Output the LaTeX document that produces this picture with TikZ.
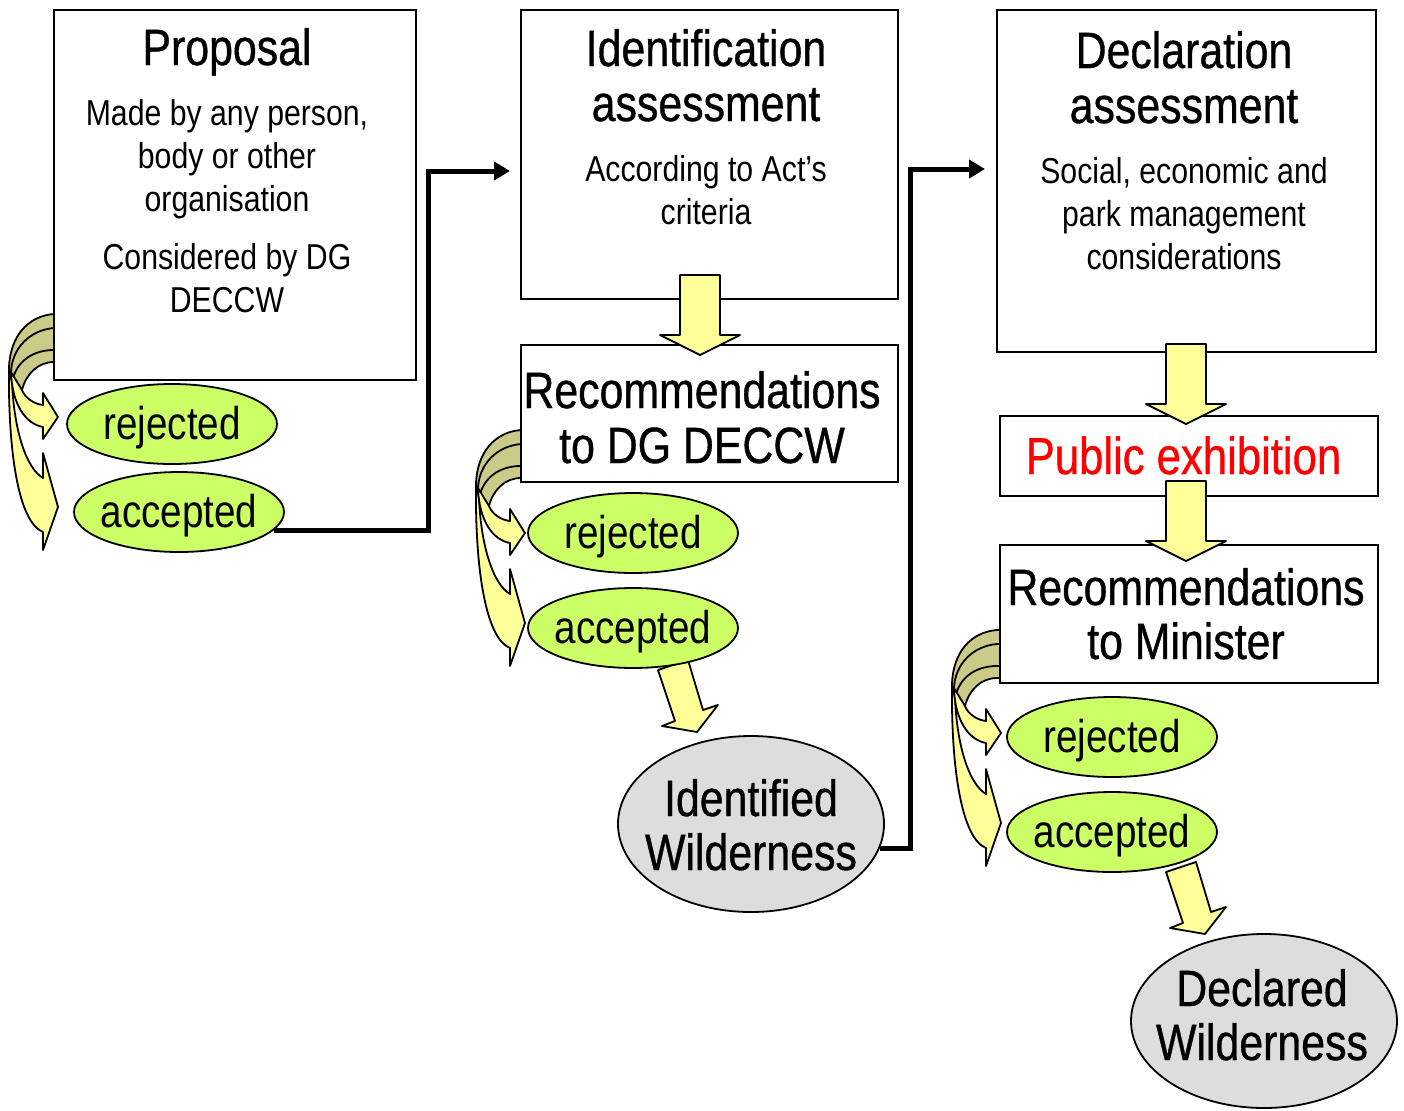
\documentclass[tikz,border=0pt]{standalone}
\usepackage{fontspec}
\setmainfont{Liberation Sans}[FakeStretch=0.84]
\newfontfamily\ttlfont{Liberation Sans}[FakeStretch=0.84,FakeBold=0.7]
\usetikzlibrary{shapes.geometric,arrows.meta,calc}
\definecolor{yel}{HTML}{FFFF99}
\definecolor{khaki}{HTML}{CCCA88}
\definecolor{lime}{HTML}{CCFF66}
\definecolor{grayell}{HTML}{DDDDDD}
\newcommand\curvpair{%
  \fill[khaki] (62,314) -- (54,314) .. controls (28,316) and (10,336) .. (9,368) -- (12,382) .. controls (16,362) and (32,350) .. (54,350) -- (62,350) -- cycle;
  \fill[khaki] (62,328) -- (54,328) .. controls (30,330) and (12,348) .. (11,372) -- (22,390) .. controls (26,374) and (38,362) .. (54,362) -- (62,362) -- cycle;
  \draw[rim] (62,314) -- (54,314) .. controls (28,316) and (10,336) .. (9,368);
  \draw[rim] (12,382) .. controls (16,362) and (32,350) .. (54,350) -- (62,350);
  \draw[rim] (62,328) -- (54,328) .. controls (30,330) and (12,348) .. (11,372);
  \draw[rim] (22,390) .. controls (26,374) and (38,362) .. (54,362) -- (62,362);
  \filldraw[blk] (9,368) .. controls (8,450) and (18,522) .. (43,532) -- (43,550) -- (58,507) -- (43,453) -- (43,478) .. controls (26,468) and (14,430) .. (12,382) -- cycle;
  \filldraw[blk] (11,372) .. controls (12,405) and (26,424) .. (43,427) -- (43,439) -- (58,417) -- (43,393) -- (43,405) .. controls (34,404) and (25,398) .. (22,390) -- cycle;
}
\begin{document}
\begin{tikzpicture}[x=0.5pt,y=-0.5pt,
  rim/.style={draw=black,line width=0.9pt},
  blk/.style={fill=yel,draw=black,line width=0.9pt,line join=round},
  box/.style={rectangle,draw=black,line width=0.9pt,fill=white,inner sep=0},
  oval/.style={ellipse,draw=black,line width=0.9pt,fill=lime,minimum width=105pt,minimum height=40pt,inner ysep=0,inner xsep=-7pt,font=\fontsize{23}{26}\selectfont,text height=20.8pt,text depth=4.9pt},
  wild/.style={ellipse,draw=black,line width=0.9pt,fill=grayell,minimum width=133pt,minimum height=88pt,inner sep=0},
  ttl/.style={anchor=base,inner sep=0,font=\ttlfont\fontsize{25.5}{27.5}\selectfont},
  bdy/.style={anchor=base,inner sep=0,font=\fontsize{18}{21.5}\selectfont},
  conn/.style={line width=2.5pt,line join=miter,-{Triangle[length=8pt,width=9pt]}}]
\useasboundingbox[fill=white] (0,0) rectangle (1404,1110);

% curved decision arrows
\curvpair
\begin{scope}[shift={(467,116)}]\curvpair\end{scope}
\begin{scope}[shift={(943,316)}]\curvpair\end{scope}

% diagonal block arrows
\filldraw[blk] (658,670) -- (688,660) -- (703,710) -- (718,705) -- (697,732) -- (662,726) -- (675,721) -- cycle;
\begin{scope}[shift={(508,202)}]
\filldraw[blk] (658,670) -- (688,660) -- (703,710) -- (718,705) -- (697,732) -- (662,726) -- (675,721) -- cycle;
\end{scope}

% boxes
\node[box,minimum width=181pt,minimum height=185pt] (propbox) at (235,195) {};
\node[box,minimum width=188.5pt,minimum height=144.5pt] (idbox) at (709.5,154.5) {};
\node[box,minimum width=188.5pt,minimum height=68.5pt] (recdg) at (709.5,413.5) {};
\node[box,minimum width=189.5pt,minimum height=171pt] (declbox) at (1186.5,181) {};
\node[box,minimum width=189pt,minimum height=40pt,text=red,font=\ttlfont\fontsize{26}{28}\selectfont,text height=23.5pt,text depth=5.5pt] (pubbox) at (1189,456) {\hspace*{-5.5pt}Public exhibition};
\node[box,minimum width=189pt,minimum height=69pt] (recmin) at (1189,614) {};

% straight block arrows
\filldraw[blk] (680,275) -- (720,275) -- (720,335) -- (740,335) -- (700,355) -- (660,335) -- (680,335) -- cycle;
\begin{scope}[shift={(486,69)}]
\filldraw[blk] (680,275) -- (720,275) -- (720,335) -- (740,335) -- (700,355) -- (660,335) -- (680,335) -- cycle;
\end{scope}
\begin{scope}[shift={(486,206)}]
\filldraw[blk] (680,275) -- (720,275) -- (720,335) -- (740,335) -- (700,355) -- (660,335) -- (680,335) -- cycle;
\end{scope}

% ellipses
\node[oval] (rej1) at (172,424) {rejected};
\node[oval] (acc1) at (179,512) {accepted};
\node[oval] (rej2) at (633,533) {rejected};
\node[oval] (acc2) at (633,628) {accepted};
\node[oval] (rej3) at (1112,737) {rejected};
\node[oval] (acc3) at (1112,832) {accepted};
\node[wild] (idw) at (751,824) {};
\node[wild,minimum height=87pt] (decw) at (1264,1021) {};

% connectors
\coordinate (t1) at (510,171);
\coordinate (t2) at (985,169);
\draw[conn] (acc1.-11.7) -| (428,171) -- (t1);
\draw[conn] (idw.-11) -| (910,169) -- (t2);

% texts
\node[ttl] (p1) at (227,65) {Proposal};
\node[bdy] (p2) at (227,125) {Made by any person,};
\node[bdy] (p3) at (227,168) {body or other};
\node[bdy] (p4) at (227,211) {organisation};
\node[bdy] (p5) at (227,269) {Considered by DG};
\node[bdy] (p6) at (227,312) {DECCW};

\node[ttl] (i1) at (706,66) {Identification};
\node[ttl] (i2) at (706,121) {assessment};
\node[bdy] (i3) at (706,181) {According to Act’s};
\node[bdy] (i4) at (706,224) {criteria};

\node[ttl] (r1) at (702,408) {Recommendations};
\node[ttl] (r2) at (702,463) {to DG DECCW};

\node[ttl] (d1) at (1184,68) {Declaration};
\node[ttl] (d2) at (1184,123) {assessment};
\node[bdy] (d3) at (1184,183) {Social, economic and};
\node[bdy] (d4) at (1184,226) {park management};
\node[bdy] (d5) at (1184,269) {considerations};

\node[ttl] (m1) at (1186,605) {Recommendations};
\node[ttl] (m2) at (1186,659) {to Minister};

\node[ttl] (w1) at (751,816) {Identified};
\node[ttl] (w2) at (751,870) {Wilderness};
\node[ttl] (w3) at (1262,1006) {Declared};
\node[ttl] (w4) at (1262,1060) {Wilderness};
\end{tikzpicture}
\end{document}
